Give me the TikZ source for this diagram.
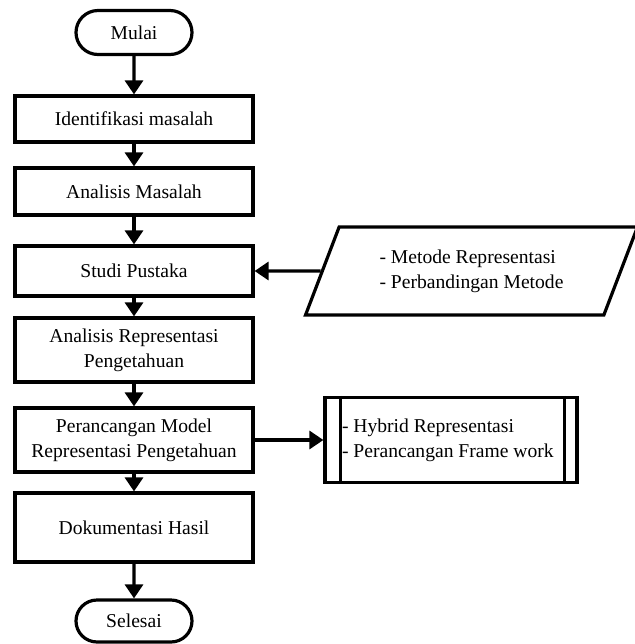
\documentclass[tikz,border=0pt]{standalone}
\usepackage{fontspec}
\setmainfont{Liberation Serif}
\usetikzlibrary{positioning,shapes.geometric,shapes.misc,arrows.meta}

\begin{document}
\begin{tikzpicture}[node distance=40pt,on grid,line width=1.6pt,>={Triangle[length=7pt,width=9pt]},font=\fontsize{9.8}{12.5}\selectfont]
 \tikzstyle{term}=[draw,rounded rectangle,minimum width=60pt,minimum height=22pt,inner sep=1pt]
 \tikzstyle{proc}=[draw,rectangle,minimum width=119pt,align=center,inner sep=1pt]
 \tikzstyle{data}=[draw,trapezium,trapezium left angle=63,trapezium right angle=117,trapezium stretches=true,minimum width=166pt,minimum height=44pt,align=left,inner sep=1pt]
 \tikzstyle{pred}=[draw,rectangle,minimum width=126pt,minimum height=42.5pt,text width=109pt,align=flush left,inner xsep=8.5pt]

\useasboundingbox (0,0) rectangle (317.5pt,-322pt);

\node[term] (t1) at (67pt,-16.25pt) {Mulai};
\node[proc,minimum height=23pt] (a1) [below=43.25pt of t1] {Identifikasi masalah};
\node[proc,minimum height=23.5pt] (a2) [below=36.25pt of a1] {Analisis Masalah};
\node[proc,minimum height=25pt] (a3) [below=39.75pt of a2] {Studi Pustaka};
\node[proc,minimum height=32pt] (a4) [below=39.5pt of a3] {Analisis Representasi\\Pengetahuan};
\node[proc,minimum height=32pt] (a5) [below=45pt of a4] {Perancangan Model\\Representasi Pengetahuan};
\node[proc,minimum height=34.5pt] (a6) [below=43.75pt of a5] {Dokumentasi Hasil};
\node[term,minimum height=21pt] (t2) [below=46.75pt of a6] {Selesai};

\node[data] (i1) [right=168.75pt of a3] {- Metode Representasi\\- Perbandingan Metode};
\node[pred] (p1) [right=158.5pt of a5] {- Hybrid Representasi\\- Perancangan Frame work};
\draw ([xshift=8.5pt]p1.north west) -- ([xshift=8.5pt]p1.south west);
\draw ([xshift=-7pt]p1.north east) -- ([xshift=-7pt]p1.south east);

\path[->] (t1) edge (a1);
\path[->] (a1) edge (a2);
\path[->] (a2) edge (a3);
\path[->] (a3) edge (a4);
\path[->] (a4) edge (a5);
\path[->] (a5) edge (a6);
\path[->] (a6) edge (t2);

\path[->] (i1.west) edge (a3.east);
\path[->] (a5.east) edge (p1.west);

\end{tikzpicture}
\end{document}
